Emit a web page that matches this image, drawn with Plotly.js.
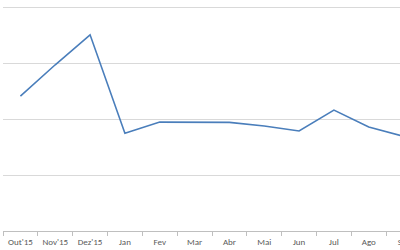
<!DOCTYPE html>
<html>
<head>
<meta charset="utf-8">
<script src="https://cdn.plot.ly/plotly-3.0.1.min.js"></script>
<style>
html,body{margin:0;padding:0;overflow:hidden;background:#fff;width:400px;height:250px;}
#chart{width:421px;height:250px;}
</style>
</head>
<body>
<div id="chart"></div>
<script>
const categories = ["Out'15","Nov'15","Dez'15","Jan","Fev","Mar","Abr","Mai","Jun","Jul","Ago","Set"];
const values = [2.41, 2.97, 3.505, 1.745, 1.946, 1.94, 1.94, 1.875, 1.786, 2.16, 1.86, 1.69];

Plotly.newPlot('chart', [{
  x: categories,
  y: values,
  type: 'scatter',
  mode: 'lines',
  line: {color: '#4A7EBB', width: 1.6},
  hoverinfo: 'skip'
}], {
  width: 421,
  height: 250,
  margin: {l: 3, r: 0, t: 6, b: 19, pad: 0},
  paper_bgcolor: '#ffffff',
  plot_bgcolor: '#ffffff',
  showlegend: false,
  font: {family: 'Carlito, "Liberation Sans", Arial, sans-serif', size: 9, color: '#595959'},
  xaxis: {
    type: 'category',
    range: [-0.5, 11.5],
    showgrid: false,
    zeroline: false,
    showline: true,
    linecolor: '#bfbfbf',
    linewidth: 1,
    ticks: 'outside',
    tickson: 'boundaries',
    ticklen: 4,
    tickcolor: '#bfbfbf',
    tickangle: 0,
    ticklabelstandoff: 2,
    tickfont: {size: 9, color: '#595959'},
    fixedrange: true
  },
  yaxis: {
    range: [0, 4.02],
    tickvals: [1, 2, 3, 4],
    showgrid: true,
    gridcolor: '#d9d9d9',
    gridwidth: 1,
    zeroline: false,
    showline: false,
    showticklabels: false,
    ticks: '',
    fixedrange: true
  }
}, {staticPlot: true, displayModeBar: false});
</script>
</body>
</html>
